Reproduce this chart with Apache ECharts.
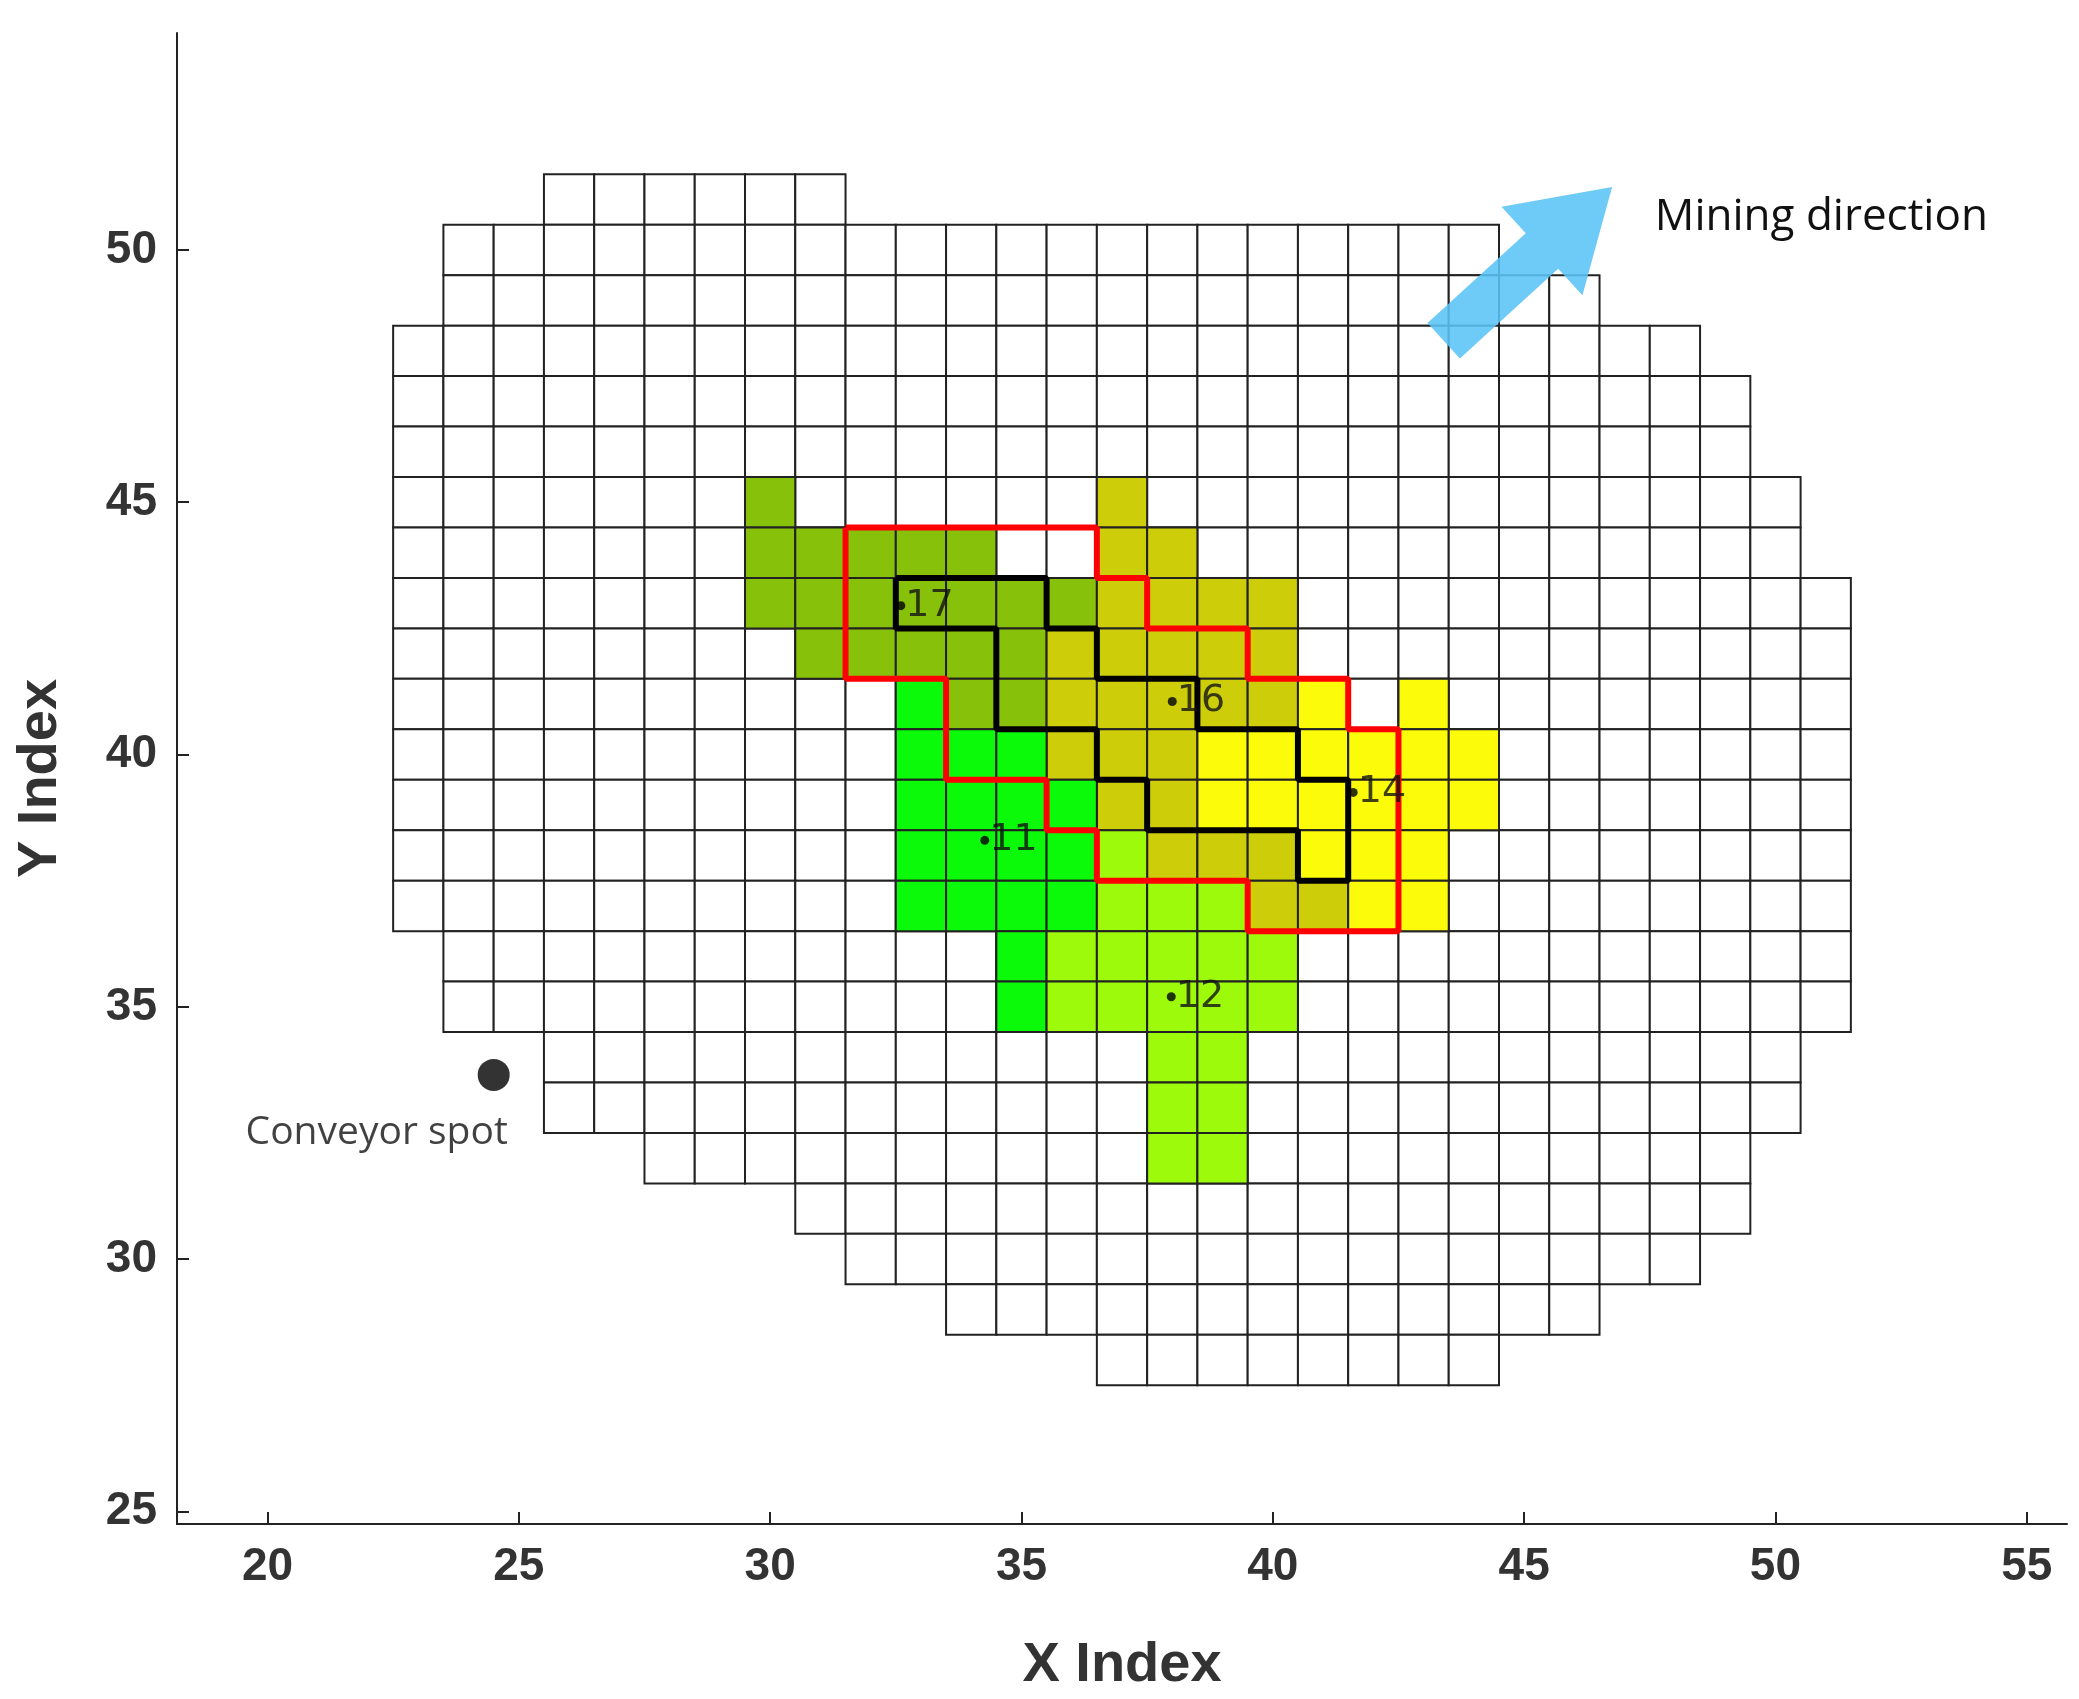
<!DOCTYPE html>
<html><head><meta charset="utf-8">
<script src="https://cdn.jsdelivr.net/npm/echarts@6/dist/echarts.min.js"></script>
<style>html,body{margin:0;padding:0;background:#fff}#c{width:2079px;height:1699px}</style>
</head><body><div id="c"></div>
<script>
// grid rows: [y, xFirst, xLast]
const gridRows = [
 [51,26,31],[50,24,44],[49,24,46],[48,23,48],[47,23,49],[46,23,49],[45,23,50],[44,23,50],
 [43,23,51],[42,23,51],[41,23,51],[40,23,51],[39,23,51],[38,23,51],[37,23,51],
 [36,24,51],[35,24,51],[34,26,50],[33,26,50],[32,28,49],[31,31,49],[30,32,48],[29,34,46],[28,37,44]
];
// coloured cells: [y, xFirst, xLast]
const oliveCells = [[45,30,30],[44,30,34],[43,30,36],[42,31,35],[41,34,35]];
const darkYellowCells = [[45,37,37],[44,37,38],[43,37,40],[42,36,40],[41,36,40],[40,36,38],[39,37,38],[38,38,40],[37,40,41]];
const yellowCells = [[41,41,41],[41,43,43],[40,39,44],[39,39,44],[38,41,43],[37,42,43]];
const greenCells = [[41,33,33],[40,33,35],[39,33,36],[38,33,36],[37,33,36],[36,35,35],[35,35,35]];
const yellowGreenCells = [[38,37,37],[37,37,39],[36,36,40],[35,36,40],[34,38,39],[33,38,39],[32,38,39]];
const redOutline = [[31.5,44.5],[36.5,44.5],[36.5,43.5],[37.5,43.5],[37.5,42.5],[39.5,42.5],[39.5,41.5],[41.5,41.5],[41.5,40.5],[42.5,40.5],[42.5,36.5],[39.5,36.5],[39.5,37.5],[36.5,37.5],[36.5,38.5],[35.5,38.5],[35.5,39.5],[33.5,39.5],[33.5,41.5],[31.5,41.5],[31.5,44.5]];
const blackOutline = [[32.5,43.5],[35.5,43.5],[35.5,42.5],[36.5,42.5],[36.5,41.5],[38.5,41.5],[38.5,40.5],[40.5,40.5],[40.5,39.5],[41.5,39.5],[41.5,37.5],[40.5,37.5],[40.5,38.5],[37.5,38.5],[37.5,39.5],[36.5,39.5],[36.5,40.5],[34.5,40.5],[34.5,42.5],[32.5,42.5],[32.5,43.5]];
const centerPoints = [[32.6,42.95,'17'],[38.0,41.05,'16'],[41.6,39.25,'14'],[34.27,38.3,'11'],[37.98,35.2,'12']];
const conveyor = [24.5,33.65];
const arrowFrom = [43.4,48.2], arrowTo = [46.75,51.25];
const tickValues = { x:[20,25,30,35,40,45,50,55], y:[25,30,35,40,45,50] };

function expand(rows, color){const out=[];rows.forEach(r=>{for(let x=r[1];x<=r[2];x++)out.push([x,r[0],color]);});return out;}
const cells = expand(gridRows,'#ffffff')
 .concat(expand(oliveCells,'#88c10a'),expand(darkYellowCells,'#cdcd0a'),expand(yellowCells,'#fbfb0a'),
         expand(greenCells,'#0afa0a'),expand(yellowGreenCells,'#9dfa0a'));

const chart = echarts.init(document.getElementById('c'));
const axisLabelStyle = {fontSize:46,fontWeight:'bold',color:'#333',fontFamily:'Arial, Liberation Sans'};
chart.setOption({
 animation:false,
 grid:{left:177,top:33,right:12,bottom:170},
 xAxis:{type:'value',min:18.2,max:55.8,name:'X Index',nameLocation:'middle',nameGap:114,
   nameTextStyle:{fontSize:56,fontWeight:'bold',color:'#333',fontFamily:'Arial, Liberation Sans'},
   axisLine:{lineStyle:{color:'#222',width:2}},
   axisTick:{inside:true,length:12,customValues:tickValues.x,lineStyle:{color:'#222',width:2}},
   axisLabel:{...axisLabelStyle,margin:20,customValues:tickValues.x},splitLine:{show:false}},
 yAxis:{type:'value',min:24.75,max:54.3,name:'Y Index',nameLocation:'middle',nameGap:108,
   nameTextStyle:{fontSize:56,fontWeight:'bold',color:'#333',fontFamily:'Arial, Liberation Sans'},
   axisLine:{show:true,lineStyle:{color:'#222',width:2}},
   axisTick:{show:true,inside:true,length:12,customValues:tickValues.y,lineStyle:{color:'#222',width:2}},
   axisLabel:{...axisLabelStyle,margin:20,customValues:tickValues.y},splitLine:{show:false}},
 series:[
  {type:'custom',data:cells,renderItem:function(p,api){
     const x=api.value(0),y=api.value(1);
     const a=api.coord([x-0.5,y+0.5]),b=api.coord([x+0.5,y-0.5]);
     return {type:'rect',shape:{x:a[0],y:a[1],width:b[0]-a[0],height:b[1]-a[1]},
       style:{fill:cells[p.dataIndex][2],stroke:'#222',lineWidth:2}};
   },encode:{x:0,y:1},z:1},
  {type:'line',data:redOutline,symbol:'none',lineStyle:{color:'#ff0000',width:6},z:3},
  {type:'line',data:blackOutline,symbol:'none',lineStyle:{color:'#000',width:6},z:4},
  {type:'scatter',data:centerPoints.map(p=>[p[0],p[1],p[2]]),symbolSize:9,itemStyle:{color:'#000'},z:5,
   label:{show:true,position:'right',distance:0,formatter:p=>p.value[2],fontSize:38,color:'#111',fontFamily:'DejaVu Sans'}},
  {type:'scatter',data:[conveyor],symbolSize:32,itemStyle:{color:'#000'},z:5,
   label:{show:true,position:'bottom',distance:22,offset:[-117,0],formatter:'Conveyor spot',fontSize:39,color:'#111',fontFamily:'Open Sans'}}
 ]
});
function drawOverlay(){
 const s=chart.convertToPixel('grid',arrowFrom), e=chart.convertToPixel('grid',arrowTo);
 const dx=e[0]-s[0], dy=e[1]-s[1], L=Math.hypot(dx,dy), ux=dx/L, uy=dy/L, nx=-uy, ny=ux;
 const sw=24, hw=60, hl=95;
 const bx=e[0]-ux*hl, by=e[1]-uy*hl;
 const pts=[[s[0]+nx*sw,s[1]+ny*sw],[bx+nx*sw,by+ny*sw],[bx+nx*hw,by+ny*hw],e,[bx-nx*hw,by-ny*hw],[bx-nx*sw,by-ny*sw],[s[0]-nx*sw,s[1]-ny*sw]];
 const t=chart.convertToPixel('grid',[47.6,50.65]);
 chart.setOption({graphic:[
  {type:'polygon',shape:{points:pts},style:{fill:'rgba(90,195,245,0.88)'},z:10},
  {type:'text',x:t[0],y:t[1],style:{text:'Mining direction',fontSize:44,fill:'#111',fontFamily:'Open Sans',textVerticalAlign:'middle'},z:10}
 ]});
}
drawOverlay();
</script></body></html>
